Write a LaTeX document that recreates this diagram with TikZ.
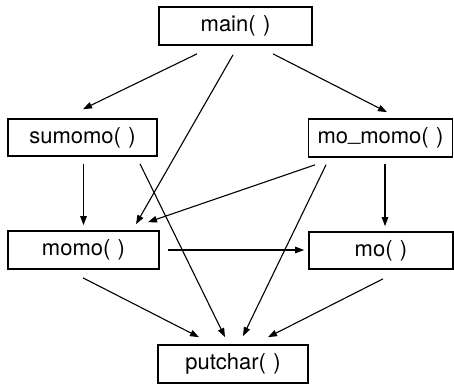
\documentclass[tikz,border=0pt]{standalone}
\usepackage{fontspec}
\setmainfont{TeX Gyre Heros}
\usetikzlibrary{arrows.meta}
\begin{document}
\begin{tikzpicture}[x=1pt,y=-1pt,
  fbox/.style={draw=black,line width=1.7pt,rectangle,inner sep=0pt,
    font=\fontsize{22}{26}\selectfont,text=black},
  arr/.style={draw=black,line width=1.1pt,-{Triangle[length=9pt,width=6.5pt]}}]
\useasboundingbox (0,0) rectangle (454,384);
\node[fbox,minimum width=153pt,minimum height=38pt] (main) at (235.5,26) {main(\,\,)};
\node[fbox,minimum width=149pt,minimum height=37pt] (sumomo) at (82.5,137.5) {sumomo(\,\,)};
\node[fbox,minimum width=144pt,minimum height=38pt] (momomo) at (380.5,138) {mo\raisebox{3pt}{\_}momo(\,\,)};
\node[fbox,minimum width=151pt,minimum height=38pt] (momo) at (83.5,250) {momo(\,\,)};
\node[fbox,minimum width=144pt,minimum height=37pt] (mo) at (381,250.5) {mo(\,\,)};
\node[fbox,minimum width=150pt,minimum height=38pt] (putchar) at (233,364) {putchar(\,\,)};
% connectors
\draw[arr] ([shift={(-38.5,8)}]main.south) -- ([shift={(0.5,-9)}]sumomo.north);
\draw[arr] ([shift={(-2.5,9)}]main.south) -- ([shift={(52.5,-6)}]momo.north);
\draw[arr] ([shift={(37.5,8)}]main.south) -- ([shift={(6.5,-6)}]momomo.north);
\draw[arr] ([shift={(1,7)}]sumomo.south) -- ([shift={(0,-5)}]momo.north);
\draw[arr] ([shift={(57.5,7)}]sumomo.south) -- ([shift={(-8,-7)}]putchar.north);
\draw[arr] ([shift={(-65.5,7)}]momomo.south) -- ([shift={(64.5,-8)}]momo.north);
\draw[arr] ([shift={(-54.5,7)}]momomo.south) -- ([shift={(10,-8)}]putchar.north);
\draw[arr] ([shift={(4.5,6)}]momomo.south) -- ([shift={(4,-5)}]mo.north);
\draw[arr] ([shift={(8,0)}]momo.east) -- ([shift={(-4,-0.5)}]mo.west);
\draw[arr] ([shift={(-0.5,8)}]momo.south) -- ([shift={(-34,-7)}]putchar.north);
\draw[arr] ([shift={(2,9)}]mo.south) -- ([shift={(35,-7)}]putchar.north);
\end{tikzpicture}
\end{document}
